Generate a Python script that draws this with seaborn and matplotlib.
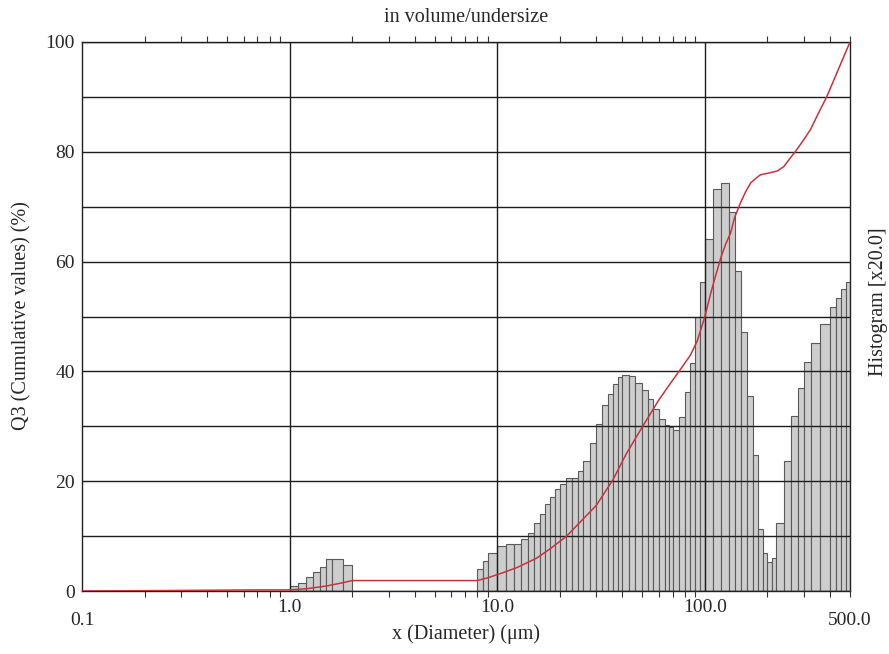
import numpy as np
import matplotlib
matplotlib.use("Agg")
import matplotlib.pyplot as plt
from matplotlib.ticker import NullFormatter
import seaborn as sns

# ---------------- data ----------------
fine_edges = [1.0, 1.1, 1.2, 1.3, 1.4, 1.5, 1.6, 1.8, 2.0]
fine_heights = [0.9, 1.5, 2.6, 3.4, 4.3, 5.8, 5.8, 4.8]

coarse_edges = [8.0, 8.5, 9.0, 10, 11, 12, 13, 14, 15, 16, 17, 18, 19, 20,
                21.5, 23, 24.5, 26, 28, 30, 32, 34, 36, 38, 40,
                43, 46, 50, 53, 56.5, 60, 64, 67, 70, 75, 80, 85, 90, 95, 100,
                110, 120, 130, 140, 150, 160, 170, 180, 190, 200, 210, 220,
                240, 260, 280, 300, 325, 360, 400, 430, 455, 478, 500]
coarse_heights = [4.0, 5.5, 7.0, 8.2, 8.6, 8.6, 9.4, 10.6, 12.3, 14.0, 15.8, 17.2, 18.6,
                  19.4, 20.5, 20.6, 21.9, 23.7, 26.9, 30.5, 33.9, 35.9, 37.7, 38.9,
                  39.3, 39.2, 37.9, 36.6, 34.9, 33.1, 31.3, 30.2, 29.9, 29.3, 31.7, 36.2, 41.6, 50.0, 56.2,
                  64.2, 73.2, 74.3, 69.0, 58.2, 47.1, 35.6, 24.8, 11.3, 7.0, 5.3, 6.1,
                  12.3, 23.7, 31.9, 37.0, 41.8, 45.1, 48.7, 51.8, 53.4, 55.0, 56.3]

cum_diam = [0.1, 0.3, 0.7, 1.0, 1.2, 1.5, 1.8, 2.0, 8.0, 9.0, 10.6, 12.5, 15.5, 18, 21.6,
            25, 30, 36, 42, 50, 60, 67, 76, 85, 92, 100, 107, 113, 120, 126, 133, 139,
            148, 157, 166, 175, 185, 207, 223, 240, 257, 276, 298, 322, 352, 386, 415, 445, 500]
cum_q3 = [0.0, 0.1, 0.2, 0.2, 0.4, 0.9, 1.5, 1.9, 1.9, 2.4, 3.3, 4.3, 6.0, 7.7, 10.0,
          12.5, 15.6, 20.2, 25.1, 29.9, 34.8, 37.4, 40.3, 42.9, 45.6, 50.0, 54.4, 57.6, 61.0, 63.2, 65.2, 68.0,
          70.6, 72.7, 74.3, 75.1, 75.8, 76.2, 76.5, 77.3, 78.8, 80.3, 82.1, 84.0, 87.0, 90.0, 92.8, 95.5, 100.0]

x_tick_values = [1, 10, 100]
x_tick_labels = ["1.0", "10.0", "100.0"]
x_end_values = [0.1, 500]
x_end_labels = ["0.1", "500.0"]
y_tick_values = [0, 20, 40, 60, 80, 100]

# ---------------- style ----------------
sns.set_theme(style="white")
plt.rcParams["font.family"] = ["Liberation Serif", "DejaVu Serif"]
plt.rcParams["font.size"] = 14

fig = plt.figure(figsize=(8.89, 6.54), dpi=100)
ax = fig.add_axes([82 / 889, 1 - 591 / 654, (850 - 82) / 889, (591 - 42) / 654])
ax.set_xscale("log")

bar_face = "#cdcdcd"
bar_edge = "#5a5a5a"
for edges, heights in [(fine_edges, fine_heights), (coarse_edges, coarse_heights)]:
    e = np.asarray(edges, dtype=float)
    ax.bar(e[:-1], heights, width=np.diff(e), align="edge", color=bar_face,
           edgecolor=bar_edge, linewidth=0.8, zorder=1)

sns.lineplot(x=cum_diam, y=cum_q3, color="#c8333b", linewidth=1.1, ax=ax, zorder=4)

ax.set_xlim(0.1, 500)
ax.set_ylim(0, 100)

ax.set_xticks(x_tick_values)
ax.set_xticklabels(x_tick_labels)
ax.xaxis.set_minor_formatter(NullFormatter())
ax.tick_params(axis="x", which="major", length=0, pad=5.5, labelsize=14)
ax.tick_params(axis="x", which="minor", bottom=True, top=True, direction="out",
               length=4, width=0.8, color="#333333")
for xv, lab in zip(x_end_values, x_end_labels):
    ax.text(xv, -0.0375, lab, transform=ax.get_xaxis_transform(), ha="center", va="top",
            fontsize=14)

ax.set_yticks(y_tick_values)
ax.set_yticks(range(0, 101, 10), minor=True)
ax.tick_params(axis="y", which="both", length=0, pad=5, labelsize=14)

ax.set_axisbelow(False)
ax.grid(True, which="major", axis="x", color="#1e1e1e", linewidth=1.0)
ax.grid(True, which="both", axis="y", color="#1e1e1e", linewidth=1.0)

for s in ax.spines.values():
    s.set_visible(True)
    s.set_color("#222222")
    s.set_linewidth(1.0)

ax.set_xlabel("")
ax.set_ylabel("")
fig.text(466 / 889, 1 - 17 / 654, "in volume/undersize", ha="center", va="center", fontsize=14.5)
fig.text(466 / 889, 1 - 634 / 654, "x (Diameter) (μm)", ha="center", va="center", fontsize=14.5)
fig.text(22 / 889, 1 - 316 / 654, "Q3 (Cumulative values) (%)", ha="center", va="center",
         rotation=90, fontsize=14.5)
fig.text(878 / 889, 1 - 302 / 654, "Histogram [x20.0]", ha="center", va="center",
         rotation=90, fontsize=14.5)

fig.savefig("out.png", dpi=100)
